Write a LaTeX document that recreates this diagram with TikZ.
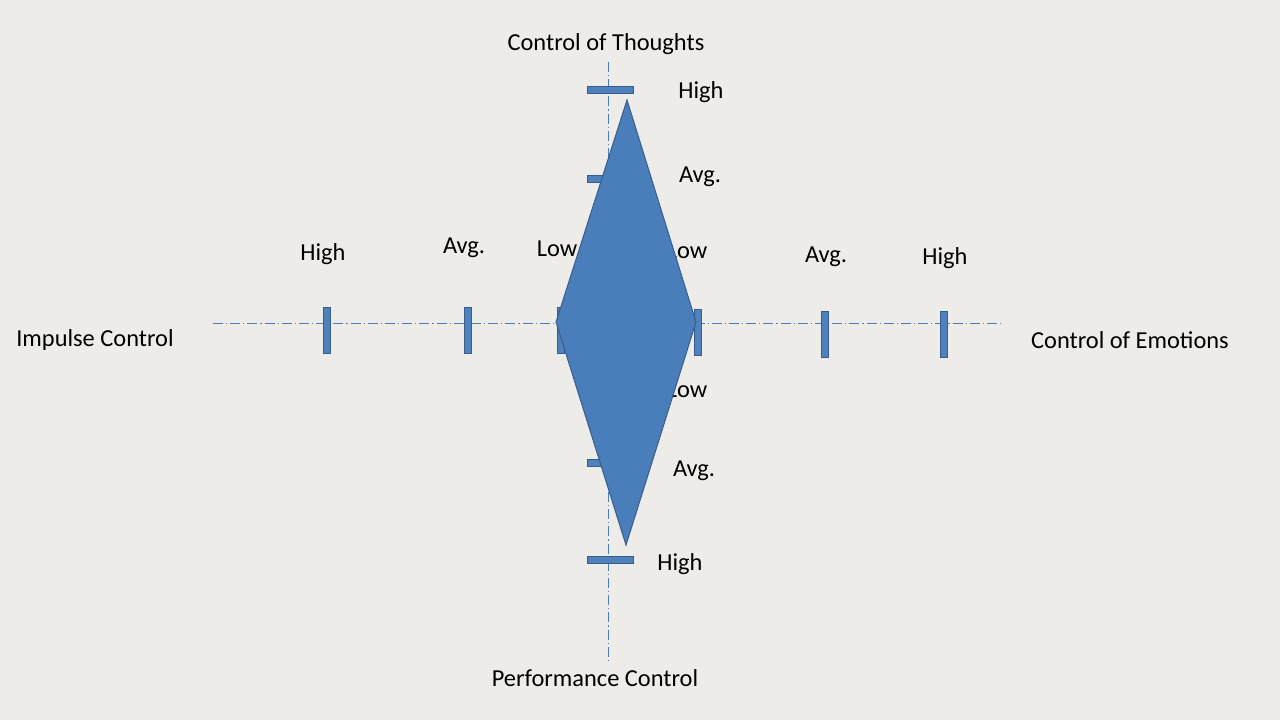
\documentclass[tikz,border=0pt]{standalone}
\usepackage{fontspec}
\setmainfont{Carlito}
\begin{document}
\begin{tikzpicture}[x=0.5pt,y=-0.5pt,
  lbl/.style={inner sep=0pt,font=\fontsize{12.2}{14}\selectfont,text=black},
  axisline/.style={draw=axisblue,line width=0.5pt,dash pattern=on 5pt off 1.5pt on 0.6pt off 1.5pt},
  vtick/.style={draw=tickedge,fill=tickblue,line width=0.4pt,inner sep=0pt,minimum width=3.5pt,minimum height=23pt},
  htick/.style={draw=tickedge,fill=tickblue,line width=0.4pt,inner sep=0pt,minimum width=23pt,minimum height=3.5pt},
  diam/.style={draw=tickedge,fill=diamblue,line width=0.5pt}]
\definecolor{bgc}{RGB}{238,236,233}
\definecolor{axisblue}{RGB}{74,126,187}
\definecolor{tickblue}{RGB}{79,129,189}
\definecolor{tickedge}{RGB}{56,93,138}
\definecolor{diamblue}{RGB}{74,126,187}
\fill[bgc] (0,0) rectangle (1280,720);
\useasboundingbox (0,0) rectangle (1280,720);
% axes
\coordinate (hL) at (213,323);
\coordinate (hR) at (1001,323);
\coordinate (vT) at (608,62);
\coordinate (vB) at (608,662);
\draw[axisline] (hL) -- (hR);
\draw[axisline] (vT) -- (vB);
% horizontal-axis ticks
\node[vtick] (tlh) at (327,330) {};
\node[vtick] (tla) at (468,330) {};
\node[vtick] (tll) at (561,330) {};
\node[vtick] (trl) at (698,332) {};
\node[vtick] (tra) at (825,334) {};
\node[vtick] (trh) at (944,334) {};
% vertical-axis ticks
\node[htick] (tth) at (610,90) {};
\node[htick] (tta) at (610,179) {};
\node[htick] (ttl) at (610,252) {};
\node[htick] (tbl) at (610,395) {};
\node[htick] (tba) at (610,463) {};
\node[htick] (tbh) at (610,560) {};
% labels behind diamond
\node[lbl] (lowTL) at (557,249) {Low};
\node[lbl] (lowTR) at (687,251) {Low};
\node[lbl] (lowBR) at (687,390) {Low};
% diamond
\coordinate (dT) at (627,100);
\coordinate (dL) at (556,322);
\coordinate (dR) at (696,322);
\coordinate (dB) at (626,545);
\draw[diam] (dT) -- (dR) -- (dB) -- (dL) -- cycle;
% labels
\node[lbl] (title) at (606,44) {Control of Thoughts};
\node[lbl] (hiT) at (701,92) {High};
\node[lbl] (avT) at (700,177) {Avg.};
\node[lbl] (avB) at (694,471) {Avg.};
\node[lbl] (hiB) at (680,564) {High};
\node[lbl] (hiL) at (323,254) {High};
\node[lbl] (avL) at (464,248) {Avg.};
\node[lbl] (avR) at (826,257) {Avg.};
\node[lbl] (hiR) at (945,258) {High};
\node[lbl] (imp) at (95,340) {Impulse Control};
\node[lbl] (emo) at (1130,340) {Control of Emotions};
\node[lbl] (perf) at (595,678) {Performance Control};
\end{tikzpicture}
\end{document}
